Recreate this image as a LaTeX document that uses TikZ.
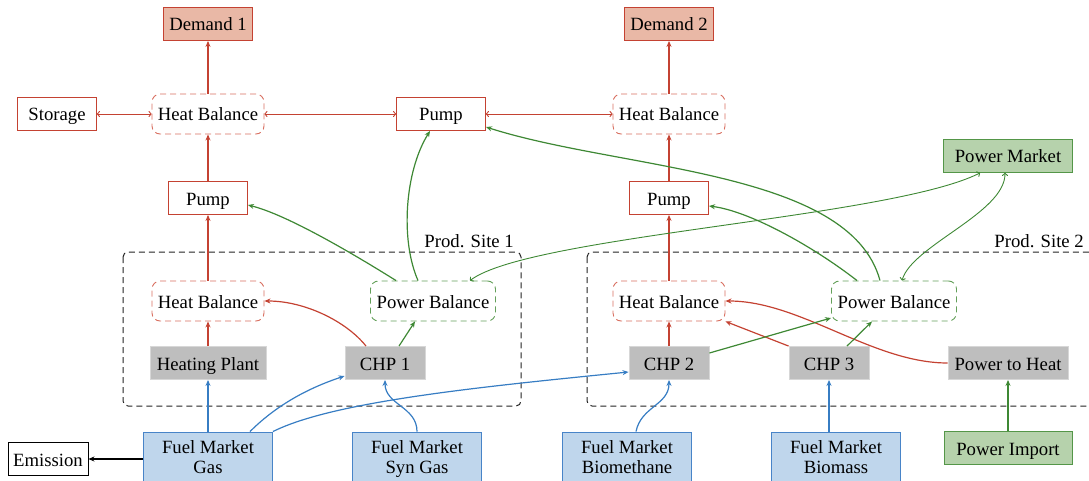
\documentclass[tikz,border=0pt]{standalone}
\usepackage{fontspec}
\setmainfont{Liberation Serif}
\usetikzlibrary{arrows.meta}
\definecolor{lred}{RGB}{196,66,50}
\definecolor{hbred}{RGB}{216,110,95}
\definecolor{salmon}{RGB}{233,184,166}
\definecolor{lgreen}{RGB}{62,136,52}
\definecolor{pbgreen}{RGB}{100,160,90}
\definecolor{gfill}{RGB}{182,210,172}
\definecolor{gborder}{RGB}{84,150,72}
\definecolor{lblue}{RGB}{55,125,195}
\definecolor{bfill}{RGB}{191,214,236}
\definecolor{bborder}{RGB}{72,132,200}
\definecolor{grayfill}{RGB}{190,190,190}
\definecolor{grayborder}{RGB}{215,215,215}
\definecolor{sitegray}{RGB}{35,35,35}
\begin{document}
\begin{tikzpicture}[x=1pt,y=-1pt,
  font=\fontsize{18.7pt}{20pt}\selectfont,
  box/.style={draw, minimum height=33pt, inner sep=0pt, text height=16pt, text depth=2pt, line width=0.9pt},
  redbox/.style={box, draw=lred, fill=white},
  demandbox/.style={box, draw=lred, fill=salmon},
  greenbox/.style={box, draw=gborder, fill=gfill},
  graybox/.style={box, draw=grayborder, fill=grayfill},
  blackbox/.style={box, draw=black, fill=white},
  hbbox/.style={draw=hbred, dash pattern=on 6pt off 4pt, rounded corners=8pt, minimum width=112pt, minimum height=40pt, inner sep=0pt, text height=16pt, text depth=2pt, line width=0.9pt},
  pbbox/.style={hbbox, draw=pbgreen, minimum width=125pt},
  fuelbox/.style={draw=bborder, fill=bfill, line width=0.9pt, minimum width=129pt, minimum height=54pt, align=center, inner sep=0pt},
  sitebox/.style={draw=sitegray, dash pattern=on 6pt off 4pt, rounded corners=5pt, line width=1pt},
  redarr/.style={draw=lred, line width=1.2pt, -{Stealth[length=6pt,width=5pt]}},
  greenarr/.style={draw=lgreen, line width=1.2pt, -{Stealth[length=6pt,width=5pt]}},
  bluearr/.style={draw=lblue, line width=1.2pt, -{Stealth[length=6pt,width=5pt]}},
  blackarr/.style={draw=black, line width=1.1pt, -{Stealth[length=6pt,width=5pt]}},
  redtwo/.style={draw=lred, line width=0.9pt, {To[length=3pt,width=6pt]}-{To[length=3pt,width=6pt]}},
  greentwo/.style={draw=lgreen, line width=0.9pt, {To[length=3pt,width=6pt]}-{To[length=3pt,width=6pt]}}
]
\useasboundingbox (0,0) rectangle (1089,481);

% production sites
\draw[sitebox] (123,252) rectangle (521,406);
\node[anchor=base east, inner sep=0pt] (site1) at (514,247) {Prod. Site 1};
\draw[sitebox] (587,252) rectangle (1100,406);
\node[anchor=base east, inner sep=0pt] (site2) at (1084,247) {Prod. Site 2};

% nodes
\node[demandbox, minimum width=89pt] (d1) at (208,24) {Demand 1};
\node[demandbox, minimum width=89pt] (d2) at (669,24) {Demand 2};
\node[redbox, minimum width=79pt] (sto) at (57,114) {Storage};
\node[hbbox] (hbt1) at (208,114) {Heat Balance};
\node[redbox, minimum width=89pt] (pumpt) at (441,114) {Pump};
\node[hbbox] (hbt2) at (669,114) {Heat Balance};
\node[greenbox, minimum width=129pt] (pm) at (1008,156) {Power Market};
\node[redbox, minimum width=79pt] (p1) at (208,198) {Pump};
\node[redbox, minimum width=79pt] (p2) at (669,198) {Pump};
\node[hbbox] (hbs1) at (208,301) {Heat Balance};
\node[pbbox] (pbs1) at (433,301) {Power Balance};
\node[hbbox] (hbs2) at (669,301) {Heat Balance};
\node[pbbox] (pbs2) at (894,301) {Power Balance};
\node[graybox, minimum width=116pt] (hp) at (208,363) {Heating Plant};
\node[graybox, minimum width=80pt] (chp1) at (385,363) {CHP 1};
\node[graybox, minimum width=80pt] (chp2) at (669,363) {CHP 2};
\node[graybox, minimum width=80pt] (chp3) at (829,363) {CHP 3};
\node[graybox, minimum width=120pt] (p2h) at (1008,363) {Power to Heat};
\node[fuelbox] (fg) at (208,459) {Fuel Market\\Gas\vphantom{p}};
\node[fuelbox] (fsg) at (417,459) {Fuel Market\\Syn Gas};
\node[fuelbox] (fbm) at (627,459) {Fuel Market\\Biomethane\vphantom{p}};
\node[fuelbox] (fbs) at (836,459) {Fuel Market\\Biomass\vphantom{p}};
\node[greenbox, minimum width=128pt] (pim) at (1008,448) {Power Import};
\node[blackbox, minimum width=80pt] (em) at (48,459) {Emission};

% red heat flows
\draw[redarr] (hbt1.north) -- (d1.south);
\draw[redarr] (p1.north) -- (hbt1.south);
\draw[redarr] (hbs1.north) -- (p1.south);
\draw[redarr] (hp.north) -- (hbs1.south);
\draw[redarr] ([xshift=-19pt]chp1.north) .. controls +(-20,-25) and +(40,0) .. (hbs1.east);
\draw[redarr] (hbt2.north) -- (d2.south);
\draw[redarr] (p2.north) -- (hbt2.south);
\draw[redarr] (hbs2.north) -- (p2.south);
\draw[redarr] (chp2.north) -- (hbs2.south);
\draw[redarr] (chp3.north west) -- (hbs2.south east);
\draw[redarr] (p2h.west) .. controls +(-75,0) and +(75,0) .. (hbs2.east);
\draw[redtwo] (sto.east) -- (hbt1.west);
\draw[redtwo] (hbt1.east) -- (pumpt.west);
\draw[redtwo] (pumpt.east) -- (hbt2.west);

% green power flows
\draw[greenarr] ([xshift=14pt]chp1.north) -- ([xshift=-18pt]pbs1.south);
\draw[greenarr] ([xshift=-15pt]pbs1.north) .. controls +(-18,-41) and +(-25,40) .. ([xshift=-11pt]pumpt.south);
\draw[greenarr] ([xshift=-37pt]pbs1.north) .. controls +(-40,-25) and +(40,10) .. ([yshift=-7pt]p1.east);
\draw[greentwo] ([xshift=37pt]pbs1.north) .. controls +(60,-45) and +(-90,45) .. ([xshift=-28pt]pm.south);
\draw[greenarr] ([yshift=10pt]chp2.east) -- ([yshift=-17pt]pbs2.west);
\draw[greenarr] ([xshift=18pt]chp3.north) -- ([xshift=-22pt]pbs2.south);
\draw[greenarr] ([xshift=-37pt]pbs2.north) .. controls +(-45,-35) and +(40,5) .. ([yshift=-8pt]p2.east);
\draw[greenarr] ([xshift=-14pt]pbs2.north) .. controls +(-30,-111) and +(134,43) .. ([yshift=-13pt]pumpt.east);
\draw[greentwo] ([xshift=8pt]pbs2.north) .. controls +(10,-35) and +(0,40) .. ([xshift=-3pt]pm.south);
\draw[greenarr] (pim.north) -- (p2h.south);

% blue fuel flows
\draw[bluearr] (fg.north) -- (hp.south);
\draw[bluearr] ([xshift=42pt]fg.north) .. controls +(30,-30) and +(-30,10) .. ([yshift=-13pt]chp1.west);
\draw[bluearr] (fg.north east) .. controls +(60,-30) and +(-150,15) .. ([yshift=-9pt]chp2.west);
\draw[bluearr] (fsg.north) .. controls +(0,-25) and +(0,25) .. (chp1.south);
\draw[bluearr] ([xshift=9pt]fbm.north) .. controls +(5,-25) and +(0,25) .. (chp2.south);
\draw[bluearr] (fbs.north -| chp3.south) -- (chp3.south);

% emission
\draw[blackarr] (fg.west) -- (em.east);
\end{tikzpicture}
\end{document}
